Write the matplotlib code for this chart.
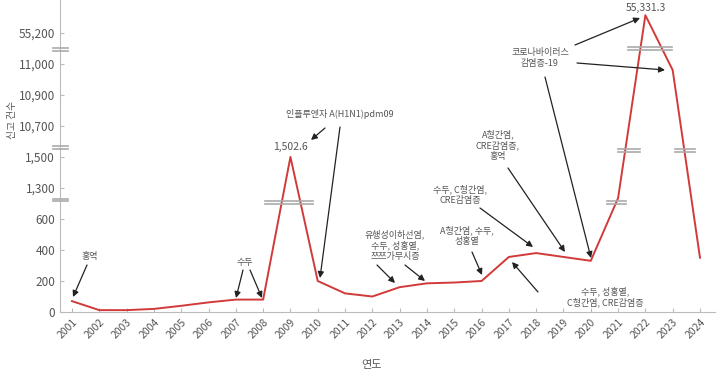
import numpy as np
import matplotlib
matplotlib.use('Agg')
import matplotlib.pyplot as plt

plt.rcParams['font.family'] = ['Noto Sans CJK KR', 'DejaVu Sans']

years = list(range(2001, 2025))
cases = [70, 12, 12, 20, 40, 62, 80, 80, 1502.6, 200, 120, 100, 160, 185,
         190, 200, 355, 380, 355, 330, 1070, 55331.3, 10980, 350]
ytick_vals = [0, 200, 400, 600, 1300, 1500, 10700, 10900, 11000, 55200]
ytick_labels = ['0', '200', '400', '600', '1,300', '1,500', '10,700', '10,900', '11,000', '55,200']

# broken (piecewise) y scale
knot_vals = [0, 600, 1300, 1500, 10700, 10900, 11000, 55200, 55500]
knot_pos = [0, 3, 4, 5, 6, 7, 8, 9, 10.3]


def fwd(v):
    return np.interp(v, knot_vals, knot_pos)


def inv(p):
    return np.interp(p, knot_pos, knot_vals)


W, H = 723, 377
fig = plt.figure(figsize=(W / 100, H / 100), dpi=100)
ax = fig.add_axes([60 / W, 1 - 312 / H, (715 - 60) / W, 312 / H])
ax.set_yscale('function', functions=(fwd, inv))

line_col = '#d23a3a'
txt_col = '#555555'
ax.plot(years, cases, color=line_col, lw=1.4, zorder=3)

ax.set_xlim(2000.56, 2024.55)
ax.set_ylim(0, inv(10.06))
ax.set_xticks(years)
ax.set_xticklabels([str(y) for y in years], rotation=45, ha='right',
                   rotation_mode='anchor', fontsize=7.5, color=txt_col)
ax.set_yticks(ytick_vals)
ax.set_yticklabels(ytick_labels, fontsize=8.5, color=txt_col)
ax.yaxis.set_minor_locator(matplotlib.ticker.NullLocator())
ax.tick_params(axis='both', direction='in', length=3, color='#bbbbbb')
for s in ['top', 'right']:
    ax.spines[s].set_visible(False)
for s in ['left', 'bottom']:
    ax.spines[s].set_color('#bbbbbb')


def px(x, y):
    return (x / W, 1 - y / H)


# break marks (double gray lines)
def brk(x0, x1, y):
    for dy in (-1.5, 1.5):
        fig.add_artist(plt.Line2D([x0 / W, x1 / W], [1 - (y + dy) / H] * 2,
                                  color='#aaaaaa', lw=1.2, zorder=5))


for y in (49, 147, 200):
    brk(53, 68, y)
brk(265, 313, 202)
brk(607, 626, 202)
brk(628, 672, 48)
brk(618, 640, 150)
brk(675, 695, 150)

# value labels
ax.annotate('1,502.6', xy=(2009, 1502.6), xytext=(0, 5), textcoords='offset pixels',
            ha='center', va='bottom', fontsize=7.5, color=txt_col)
ax.annotate('55,331.3', xy=(2022, 55331.3), xytext=(0, 2), textcoords='offset pixels',
            ha='center', va='bottom', fontsize=7.5, color=txt_col, annotation_clip=False)

notes = [
    ('홍역', 90, 257),
    ('수두', 245, 262),
    ('인플루엔자 A(H1N1)pdm09', 340, 114),
    ('유행성이하선염,\n수두, 성홍열,\n쯔쯔가무시증', 395, 245),
    ('A형간염, 수두,\n성홍열', 467, 236),
    ('수두, C형간염,\nCRE감염증', 460, 195),
    ('A형간염,\nCRE감염증,\n홍역', 498, 145),
    ('코로나바이러스\n감염증-19', 540, 58),
    ('수두, 성홍열,\nC형간염, CRE감염증', 605, 297),
]
for t, x, y in notes:
    fig.text(*px(x, y), t, ha='center', va='center', fontsize=6.5,
             color=txt_col, linespacing=1.2)

arrows = [
    ((87, 265), (73, 297)),
    ((243, 270), (236, 298)), ((250, 270), (262, 298)),
    ((325, 128), (311, 140)), ((340, 127), (320, 278)),
    ((377, 265), (395, 283)), ((405, 265), (425, 281)),
    ((472, 252), (482, 275)),
    ((480, 208), (533, 247)),
    ((508, 168), (565, 252)),
    ((575, 45), (640, 18)), ((577, 63), (665, 70)), ((545, 77), (591, 258)),
    ((538, 292), (512, 262)),
]
for (sx, sy), (ex, ey) in arrows:
    ax.annotate('', xy=px(ex, ey), xytext=px(sx, sy), xycoords='figure fraction',
                textcoords='figure fraction', annotation_clip=False,
                arrowprops=dict(arrowstyle='-|>', color='#222222', lw=0.9,
                                mutation_scale=9, shrinkA=0, shrinkB=0))

fig.text(*px(372, 365), '연도', ha='center', va='center', fontsize=8, color=txt_col)
fig.text(*px(12, 120), '신고 건수', ha='center', va='center', fontsize=7,
         color=txt_col, rotation=90)

fig.savefig('out.png', dpi=100)
